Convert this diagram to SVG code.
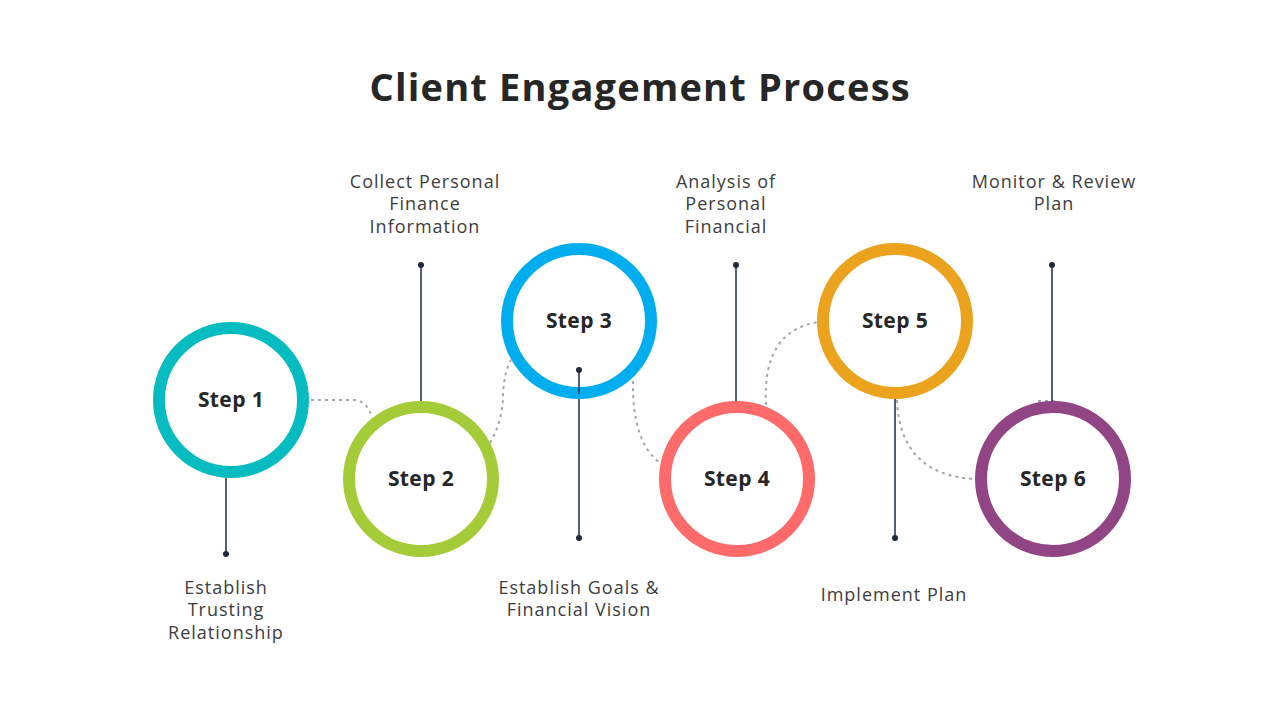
<svg xmlns="http://www.w3.org/2000/svg" width="1280" height="720" viewBox="0 0 1280 720">
<style>
.title{font-family:"Open Sans","Liberation Sans",sans-serif;font-weight:700;font-size:38px;fill:#262626;text-anchor:middle;letter-spacing:0.8px}
.step{font-family:"Open Sans","Liberation Sans",sans-serif;font-weight:700;font-size:21px;fill:#262626;text-anchor:middle;letter-spacing:0.4px}
.lbl{font-family:"Open Sans","Liberation Sans",sans-serif;font-weight:400;font-size:18px;fill:#3d3d3d;text-anchor:middle;letter-spacing:1px}
.ring{fill:#fff;stroke-width:12}
.lead{stroke:#1b2a3f;stroke-width:1.5;fill:none}
.dot{fill:#1b2a3f}
.dash{stroke:#a6a6a6;stroke-width:2;fill:none;stroke-dasharray:3 4}
</style>
<rect width="1280" height="720" fill="#fff"/>
<text class="title" x="640" y="101" textLength="541" lengthAdjust="spacing">Client Engagement Process</text>
<g id="connectors">
<path class="dash" d="M311,400 H355 Q368,402 372,418"/>
<path class="dash" d="M490,443 Q503,420 503,395 Q504,372 511,360"/>
<path class="dash" d="M633,381 Q632,442 660,463"/>
<path class="dash" d="M766,405 Q762,330 819,322"/>
<path class="dash" d="M897,400 Q900,475 975,479"/>
<path class="dash" d="M1038,401 H1058"/>
<line class="lead" x1="226" y1="478" x2="226" y2="554"/><circle class="dot" cx="226" cy="554" r="3"/>
<line class="lead" x1="421" y1="265" x2="421" y2="403"/><circle class="dot" cx="421" cy="265" r="3"/>
<line class="lead" x1="579" y1="370" x2="579" y2="538"/><circle class="dot" cx="579" cy="538" r="3"/>
<line class="lead" x1="736" y1="265" x2="736" y2="403"/><circle class="dot" cx="736" cy="265" r="3"/>
<line class="lead" x1="895" y1="399" x2="895" y2="538"/><circle class="dot" cx="895" cy="538" r="3"/>
<line class="lead" x1="1052" y1="265" x2="1052" y2="403"/><circle class="dot" cx="1052" cy="265" r="3"/>
</g>
<g id="step1"><circle class="ring" cx="231" cy="400" r="72" stroke="#06bcc1"/><text class="step" x="231" y="407">Step 1</text></g>
<g id="step2"><circle class="ring" cx="421" cy="479" r="72" stroke="#a4cc39"/><text class="step" x="421" y="486">Step 2</text></g>
<g id="step3"><circle class="ring" cx="579" cy="321" r="72" stroke="#00aeef"/><text class="step" x="579" y="328">Step 3</text><line class="lead" x1="579" y1="370" x2="579" y2="394"/><circle class="dot" cx="579" cy="370" r="3"/></g>
<g id="step4"><circle class="ring" cx="737" cy="479" r="72" stroke="#ff6b6b"/><text class="step" x="737" y="486">Step 4</text></g>
<g id="step5"><circle class="ring" cx="895" cy="321" r="72" stroke="#eba31e"/><text class="step" x="895" y="328">Step 5</text></g>
<g id="step6"><circle class="ring" cx="1053" cy="479" r="72" stroke="#924584"/><text class="step" x="1053" y="486">Step 6</text></g>
<g id="labels">
<text class="lbl" x="226" y="594">Establish</text>
<text class="lbl" x="226" y="616">Trusting</text>
<text class="lbl" x="226" y="639">Relationship</text>
<text class="lbl" x="425" y="188">Collect Personal</text>
<text class="lbl" x="425" y="210">Finance</text>
<text class="lbl" x="425" y="233">Information</text>
<text class="lbl" x="579" y="594">Establish Goals &amp;</text>
<text class="lbl" x="579" y="616">Financial Vision</text>
<text class="lbl" x="726" y="188">Analysis of</text>
<text class="lbl" x="726" y="210">Personal</text>
<text class="lbl" x="726" y="233">Financial</text>
<text class="lbl" x="894" y="601">Implement Plan</text>
<text class="lbl" x="1054" y="188">Monitor &amp; Review</text>
<text class="lbl" x="1054" y="210">Plan</text>
</g>
</svg>
